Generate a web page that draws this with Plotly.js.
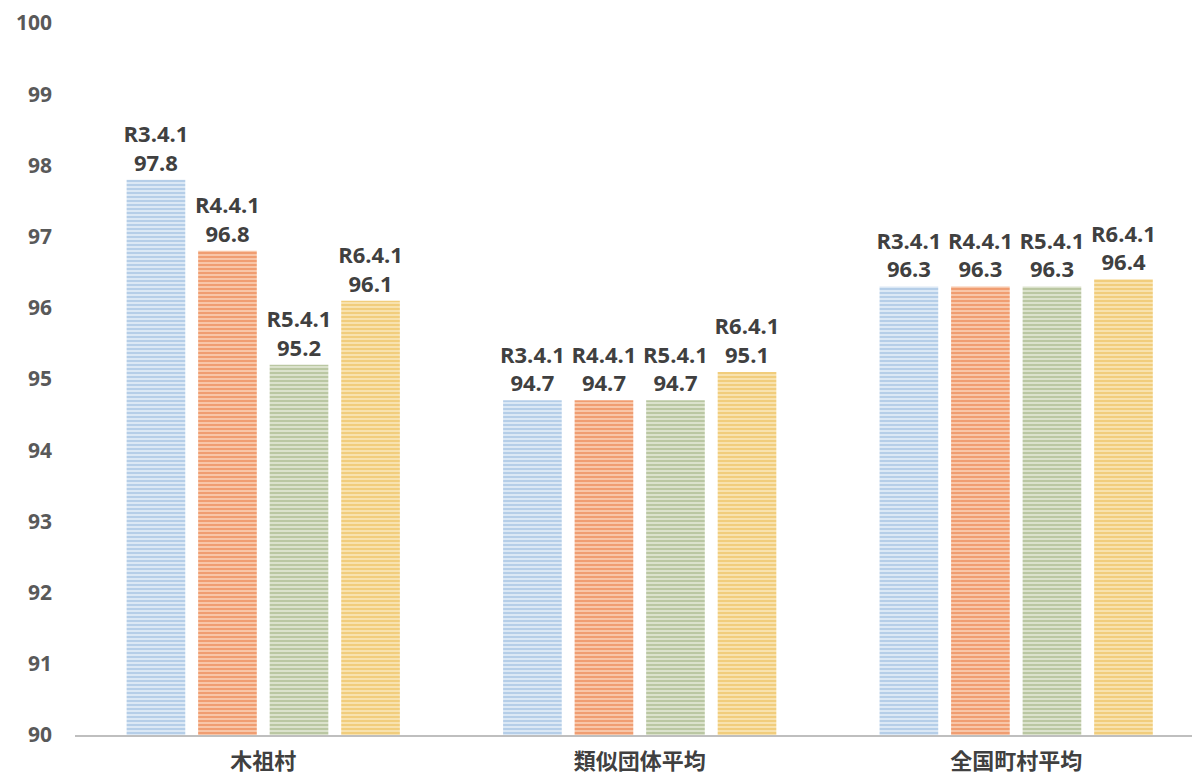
<!DOCTYPE html>
<html><head><meta charset="utf-8">
<script src="https://cdn.plot.ly/plotly-3.0.1.min.js"></script>
<style>html,body{margin:0;padding:0;background:#fff}#chart{width:1192px;height:783px}</style>
</head><body><div id="chart"></div>
<script>
const categories = ['木祖村', '類似団体平均', '全国町村平均'];
const seriesNames = ['R3.4.1', 'R4.4.1', 'R5.4.1', 'R6.4.1'];
const valuesR3 = [97.8, 94.7, 96.3];
const valuesR4 = [96.8, 94.7, 96.3];
const valuesR5 = [95.2, 94.7, 96.3];
const valuesR6 = [96.1, 95.1, 96.4];
const yTicks = [90, 91, 92, 93, 94, 95, 96, 97, 98, 99, 100];

const allValues = [valuesR3, valuesR4, valuesR5, valuesR6];
const fg = ['#8fb4dc', '#e8743a', '#9aab78', '#e9b84a'];
const bg = ['#dbe8f5', '#f8c6a8', '#dbe2cc', '#f8e2ae'];

const traces = allValues.map((vals, i) => ({
  type: 'bar',
  name: seriesNames[i],
  x: categories,
  y: vals,
  text: vals.map(v => seriesNames[i] + '<br>' + v.toFixed(1)),
  textposition: 'outside',
  texttemplate: '%{text}',
  cliponaxis: false,
  constraintext: 'none',
  textfont: {family: 'Open Sans, Noto Sans CJK JP', size: 22, color: '#404040', weight: 'bold'},
  marker: {
    color: bg[i],
    line: {width: 0},
    pattern: {shape: '-', fgcolor: fg[i], bgcolor: bg[i], size: 4, solidity: 0.5, fillmode: 'overlay'}
  },
  hoverinfo: 'none'
}));

const layout = {
  width: 1192, height: 783,
  margin: {l: 75, r: 0, t: 23, b: 48},
  paper_bgcolor: '#fff', plot_bgcolor: '#fff',
  barmode: 'group', bargap: 0.24, bargroupgap: 0.18,
  showlegend: false,
  font: {family: 'Open Sans, Noto Sans CJK JP', color: '#404040'},
  yaxis: {
    range: [90, 100], tickvals: yTicks, showgrid: false, zeroline: false,
    showline: false, ticks: '', ticklabelstandoff: 22,
    tickfont: {size: 21, color: '#595959', weight: 'bold'}
  },
  xaxis: {
    range: [-0.5, 2.467],
    showline: true, linecolor: '#bfbfbf', linewidth: 2, ticks: '', ticklabelstandoff: 6,
    tickfont: {family: 'Noto Sans CJK JP', size: 22, color: '#404040', weight: 'bold'}
  }
};
Plotly.newPlot('chart', traces, layout, {displayModeBar: false, staticPlot: true});
</script></body></html>
